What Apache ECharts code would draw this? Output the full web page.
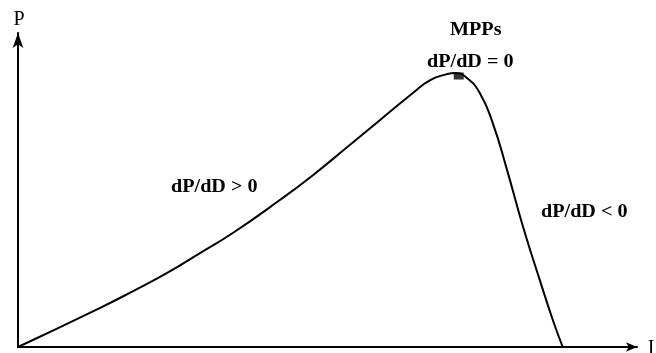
<!DOCTYPE html>
<html><head><meta charset="utf-8">
<script src="https://cdn.jsdelivr.net/npm/echarts@6/dist/echarts.min.js"></script>
<style>html,body{margin:0;padding:0;background:#fff}#c{width:656px;height:353px}</style>
</head><body><div id="c"></div>
<script>
// Current (I) values, normalized 0-100
var curveI = [0, 13.2, 18.6, 24.1, 29.4, 34.7, 42.3, 47.7, 53.2, 58.5, 63.8, 66.6, 69.3, 70.6, 72.5, 74.6, 76.7, 79.0, 81.6, 84.3, 86.4, 88.0];
// Power (P) values, normalized 0-100
var curveP = [0, 12.4, 17.8, 23.6, 29.9, 36.3, 46.8, 54.8, 63.7, 72.3, 80.9, 85.0, 86.9, 87.3, 85.7, 80.9, 71.3, 56.4, 38.2, 21.3, 8.6, 0];
var mppI = [71.2];
var mppP = [86.3];
var axisNames = ['I', 'P'];
var labels = ['MPPs', 'dP/dD = 0', 'dP/dD > 0', 'dP/dD < 0'];

var font = '"Liberation Serif","Times New Roman",serif';
var chart = echarts.init(document.getElementById('c'), null, {renderer: 'canvas'});
var lineData = curveI.map(function (v, i) { return [v, curveP[i]]; });
var mppData = mppI.map(function (v, i) { return [v, mppP[i]]; });
function txt(s, x, y) {
  return {type: 'text', x: x, y: y, scaleX: 1.12, style: {text: s, font: 'bold 18px ' + font, fill: '#000', verticalAlign: 'middle'}};
}
function axTxt(s, x, y) {
  return {type: 'text', x: x, y: y, style: {text: s, font: '20px ' + font, fill: '#000', align: 'center', verticalAlign: 'middle'}};
}
chart.setOption({
  animation: false,
  backgroundColor: '#fff',
  grid: {left: 18, right: 19, top: 33, bottom: 6},
  xAxis: {
    type: 'value', min: 0, max: 100,
    axisLine: {show: true, onZero: false, lineStyle: {color: '#000', width: 2}, symbol: ['none', 'arrow'], symbolSize: [7, 11]},
    axisTick: {show: false}, axisLabel: {show: false}, splitLine: {show: false}
  },
  yAxis: {
    type: 'value', min: 0, max: 100,
    axisLine: {show: true, onZero: false, lineStyle: {color: '#000', width: 2}, symbol: ['none', 'arrow'], symbolSize: [8, 15]},
    axisTick: {show: false}, axisLabel: {show: false}, splitLine: {show: false}
  },
  series: [
    {type: 'line', data: lineData, smooth: 0.5, showSymbol: false, lineStyle: {color: '#000', width: 2}, z: 3},
    {type: 'scatter', data: mppData, symbol: 'rect', symbolSize: [10, 7], itemStyle: {color: '#000'}, z: 4}
  ],
  graphic: [
    axTxt(axisNames[1], 19, 20),
    axTxt(axisNames[0], 651, 349),
    txt(labels[0], 450, 30),
    txt(labels[1], 427, 62),
    txt(labels[2], 171, 187),
    txt(labels[3], 541, 212)
  ]
});
</script></body></html>
